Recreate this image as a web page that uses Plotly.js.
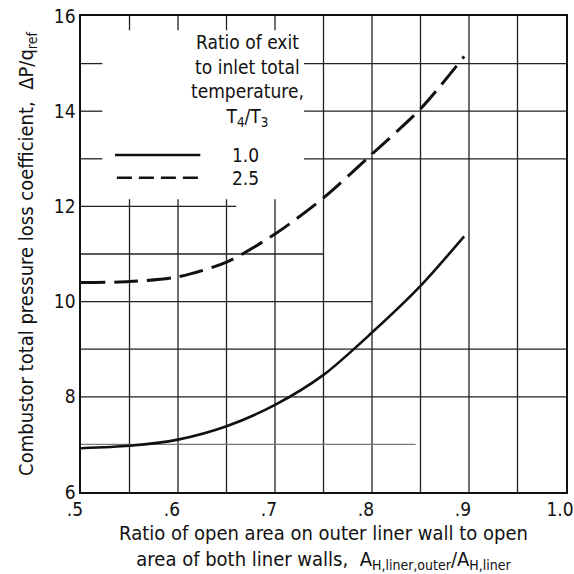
<!DOCTYPE html>
<html>
<head>
<meta charset="utf-8">
<script src="https://cdn.plot.ly/plotly-3.0.1.min.js"></script>
<style>
html,body{margin:0;padding:0;background:#fff;}
#chart{width:574px;height:574px;}
</style>
</head>
<body>
<div id="chart"></div>
<script>
// ---- data ----
const areaRatio = [0.50, 0.55, 0.60, 0.65, 0.70, 0.75, 0.80, 0.85, 0.895];
const lossTemp10 = [6.92, 6.97, 7.10, 7.38, 7.83, 8.46, 9.35, 10.33, 11.37];
const lossTemp25 = [10.40, 10.42, 10.52, 10.83, 11.42, 12.18, 13.10, 14.05, 15.15];
const seriesNames = ['1.0', '2.5'];
const xTickVals = [0.5, 0.6, 0.7, 0.8, 0.9, 1.0];
const xTickText = ['.5', '.6', '.7', '.8', '.9', '1.0'];
const yTickVals = [6, 8, 10, 12, 14, 16];
const yTickText = ['6', '8', '10', '12', '14', '16'];

const FONT = "'Liberation Sans Narrow', 'DejaVu Sans Condensed', 'Arial Narrow', sans-serif";
const INK = '#111';

// gridline segments (scanned-chart look: some lines broken around the key)
const shapes = [];
function seg(x0, x1, y0, y1, color, w) {
  shapes.push({type: 'line', xref: 'x', yref: 'y', x0: x0, x1: x1, y0: y0, y1: y1,
    line: {color: color || '#222', width: w || 1.3}, layer: 'below'});
}
// verticals
[0.75, 0.8, 0.85, 0.9, 0.95].forEach(v => seg(v, v, 6, 16));
[0.55, 0.6, 0.65, 0.7].forEach(v => { seg(v, v, 6, 12.15); seg(v, v, 15.7, 16); });
// horizontals
[13, 14, 15].forEach(h => { seg(0.5, 0.522, h, h); seg(0.73, 1.0, h, h); });
seg(0.5, 0.66, 12, 12);
seg(0.5, 0.75, 11, 11);
seg(0.5, 0.80, 10, 10);
seg(0.5, 1.0, 9, 9);
seg(0.5, 1.0, 8, 8);
seg(0.5, 0.845, 7, 7, '#777', 1.3);

// key samples
shapes.push({type: 'line', xref: 'x', yref: 'y', x0: 0.535, x1: 0.623, y0: 13.08, y1: 13.08,
  line: {color: INK, width: 2.5}});
shapes.push({type: 'line', xref: 'x', yref: 'y', x0: 0.537, x1: 0.623, y0: 12.6, y1: 12.6,
  line: {color: INK, width: 2.5, dash: '15px,7px'}});

const traces = [
  {x: areaRatio, y: lossTemp10, name: seriesNames[0], mode: 'lines',
   line: {color: INK, width: 2.6, shape: 'spline', smoothing: 0.8}, hoverinfo: 'x+y'},
  {x: areaRatio, y: lossTemp25, name: seriesNames[1], mode: 'lines',
   line: {color: INK, width: 3, shape: 'spline', smoothing: 0.8, dash: '24px,9px'}, hoverinfo: 'x+y'}
];

const layout = {
  width: 574, height: 574,
  margin: {l: 81, r: 8, t: 16, b: 82},
  paper_bgcolor: '#fff', plot_bgcolor: '#fff',
  showlegend: false,
  font: {family: FONT, size: 19, color: INK},
  xaxis: {
    range: [0.5, 1.0], showgrid: false, zeroline: false,
    showline: true, mirror: true, linecolor: INK, linewidth: 1.6,
    tickvals: xTickVals, ticktext: xTickText, ticks: '',
    ticklabelshift: -6, ticklabeloverflow: 'allow',
    tickfont: {family: FONT, size: 19, color: INK},
    title: {text: 'Ratio of open area on outer liner wall to open<br>area of both liner walls,  A<sub>H,liner,outer</sub>/A<sub>H,liner</sub>',
            font: {family: FONT, size: 20, color: INK}, standoff: 6}
  },
  yaxis: {
    range: [6, 16], showgrid: false, zeroline: false,
    showline: true, mirror: true, linecolor: INK, linewidth: 1.6,
    tickvals: yTickVals, ticktext: yTickText, ticks: '',
    tickfont: {family: FONT, size: 19, color: INK},
    title: {text: 'Combustor total pressure loss coefficient,  \u0394P/q<sub>ref</sub>',
            font: {family: FONT, size: 20, color: INK}, standoff: 15}
  },
  shapes: shapes,
  annotations: [
    {xref: 'x', yref: 'y', x: 0.672, y: 14.645, showarrow: false, align: 'center',
     text: 'Ratio of exit<br>to inlet total<br>temperature,<br>T<sub>4</sub>/T<sub>3</sub>',
     font: {family: FONT, size: 19, color: INK}},
    {xref: 'x', yref: 'y', x: 0.67, y: 13.08, showarrow: false, text: seriesNames[0],
     font: {family: FONT, size: 19, color: INK}},
    {xref: 'x', yref: 'y', x: 0.67, y: 12.6, showarrow: false, text: seriesNames[1],
     font: {family: FONT, size: 19, color: INK}}
  ]
};

Plotly.newPlot('chart', traces, layout, {staticPlot: true, displayModeBar: false});
</script>
</body>
</html>
